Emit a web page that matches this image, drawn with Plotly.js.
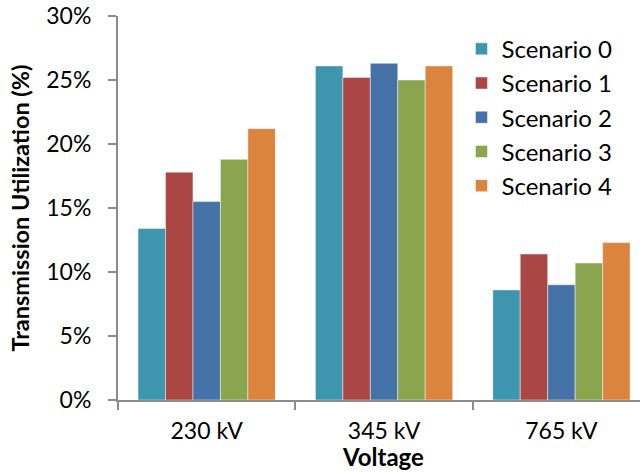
<!DOCTYPE html>
<html>
<head>
<meta charset="utf-8">
<script src="https://cdn.plot.ly/plotly-3.0.1.min.js"></script>
<style>html,body{margin:0;padding:0;background:#fff;}#chart{width:640px;height:472px;}</style>
</head>
<body>
<div id="chart"></div>
<script>
var categories = ["230 kV", "345 kV", "765 kV"];
var seriesNames = ["Scenario 0", "Scenario 1", "Scenario 2", "Scenario 3", "Scenario 4"];
var scenario0 = [13.4, 26.1, 8.6];
var scenario1 = [17.8, 25.2, 11.4];
var scenario2 = [15.5, 26.3, 9.0];
var scenario3 = [18.8, 25.0, 10.7];
var scenario4 = [21.2, 26.1, 12.3];
var yTickVals = [0, 5, 10, 15, 20, 25, 30];
var yTickText = ["0%", "5%", "10%", "15%", "20%", "25%", "30%"];
var xTitle = "Voltage";
var yTitle = "Transmission Utilization (%)";
var colors = ["#3D96AE", "#AA4643", "#4572A7", "#89A54E", "#DB843D"];

var allSeries = [scenario0, scenario1, scenario2, scenario3, scenario4];
var FONT = "Lato, 'Open Sans', sans-serif";
var traces = allSeries.map(function (vals, i) {
  return {
    type: "bar",
    name: seriesNames[i],
    x: categories,
    y: vals,
    legendgroup: "g" + i,
    marker: { color: colors[i], line: { color: "rgba(255,255,255,0.45)", width: 1 } },
    hoverinfo: "skip"
  };
});

var layout = {
  width: 640,
  height: 472,
  margin: { l: 118, r: 0, t: 16, b: 72, pad: 0 },
  paper_bgcolor: "#fff",
  plot_bgcolor: "#fff",
  barmode: "group",
  bargap: 0.226,
  bargroupgap: 0,
  showlegend: true,
  font: { family: FONT, size: 23, color: "#000" },
  xaxis: {
    type: "category",
    range: [-0.5, 2.443],
    showline: true,
    linecolor: "#8c8c8c",
    linewidth: 2,
    ticks: "outside",
    tickson: "boundaries",
    ticklen: 8,
    tickwidth: 2,
    tickcolor: "#8c8c8c",
    showgrid: false,
    zeroline: false,
    ticklabelstandoff: 9,
    tickfont: { family: FONT, size: 23, color: "#000" }
  },
  yaxis: {
    range: [0, 30],
    tickvals: yTickVals,
    ticktext: yTickText,
    showline: true,
    linecolor: "#8c8c8c",
    linewidth: 2,
    ticks: "outside",
    ticklen: 8,
    tickwidth: 2,
    tickcolor: "#8c8c8c",
    showgrid: false,
    zeroline: false,
    ticklabelstandoff: 12,
    tickfont: { family: FONT, size: 23, color: "#000" },
    title: { text: "<b>" + yTitle + "</b>", font: { family: FONT, size: 23.5, color: "#000" }, standoff: 10 }
  },
  annotations: [{
    text: "<b>" + xTitle + "</b>",
    xref: "paper", yref: "paper",
    x: 0.508, y: 0,
    xanchor: "center", yanchor: "bottom",
    yshift: -73,
    showarrow: false,
    font: { family: FONT, size: 24, color: "#000" }
  }],
  legend: {
    x: 0.658,
    xanchor: "left",
    y: 0.972,
    yanchor: "top",
    bgcolor: "rgba(0,0,0,0)",
    font: { family: FONT, size: 24, color: "#000" },
    traceorder: "grouped",
    tracegroupgap: 0,
    itemclick: false
  }
};

Plotly.newPlot("chart", traces, layout, { displayModeBar: false, staticPlot: true });
</script>
</body>
</html>
